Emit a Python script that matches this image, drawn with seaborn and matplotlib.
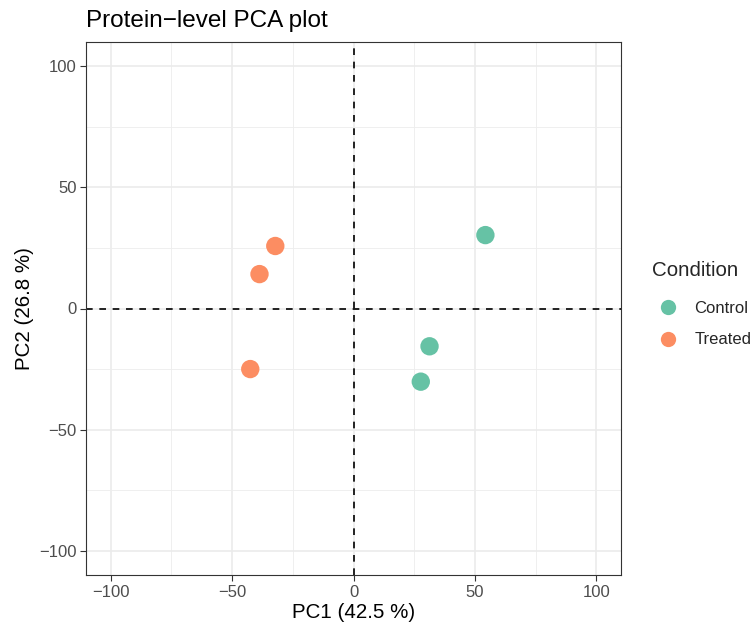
import matplotlib
matplotlib.use("Agg")
import matplotlib.pyplot as plt
import seaborn as sns
import pandas as pd
from matplotlib.ticker import MultipleLocator
from matplotlib.lines import Line2D

# Data
samples = ["C1", "C2", "C3", "T1", "T2", "T3"]
condition = ["Control", "Control", "Control", "Treated", "Treated", "Treated"]
pc1 = [54.3, 31.3, 27.7, -32.2, -38.7, -42.5]
pc2 = [30.3, -15.6, -30.2, 25.8, 14.2, -25.0]
levels = ["Control", "Treated"]
colors = ["#66C2A5", "#FC8D62"]
title = "Protein\u2212level PCA plot"
xlabel = "PC1 (42.5 %)"
ylabel = "PC2 (26.8 %)"
legend_title = "Condition"

df = pd.DataFrame({"sample": samples, "Condition": condition, "PC1": pc1, "PC2": pc2})

sns.set_style("white")
plt.rcParams["font.family"] = ["Liberation Sans", "DejaVu Sans"]

fig = plt.figure(figsize=(7.52, 6.25), dpi=100)
ax = fig.add_axes([86.3 / 752, 1 - 575 / 625, (620.7 - 86.3) / 752, (575 - 42) / 625])

ax.set_xlim(-110, 110)
ax.set_ylim(-110, 110)
ax.xaxis.set_major_locator(MultipleLocator(50))
ax.yaxis.set_major_locator(MultipleLocator(50))
ax.xaxis.set_minor_locator(MultipleLocator(25))
ax.yaxis.set_minor_locator(MultipleLocator(25))
ax.grid(True, which="major", color="#EBEBEB", linewidth=1.2)
ax.grid(True, which="minor", color="#EDEDED", linewidth=0.6)
ax.set_axisbelow(True)

ax.axhline(0, color="black", linestyle=(0, (4, 4)), linewidth=1.2, zorder=1.5)
ax.axvline(0, color="black", linestyle=(0, (4, 4)), linewidth=1.2, zorder=1.5)

sns.scatterplot(data=df, x="PC1", y="PC2", hue="Condition", hue_order=levels,
                palette=colors, s=175, linewidth=0, ax=ax, zorder=3, legend=False)

for sp in ax.spines.values():
    sp.set_color("#333333")
    sp.set_linewidth(0.8)

ax.tick_params(which="major", length=4, width=0.8, color="#333333",
               labelsize=12, labelcolor="#4D4D4D", pad=3, bottom=True, left=True)
ax.tick_params(which="minor", length=0)

ax.set_xlabel(xlabel, fontsize=14.8, color="black", labelpad=2)
ax.set_ylabel(ylabel, fontsize=14.8, color="black", labelpad=4)
ax.set_title(title, fontsize=17.5, loc="left", pad=10.5, color="black")

handles = [Line2D([0], [0], marker="o", linestyle="", markersize=11,
                  markerfacecolor=c, markeredgewidth=0) for c in colors]
fig.text(652 / 752, 1 - 271 / 625, legend_title, fontsize=14.8, ha="left", va="center")
leg = fig.legend(handles, levels, loc="center left",
                 bbox_to_anchor=(655 / 752 - 0.004, 1 - 324 / 625), frameon=False,
                 fontsize=12, handletextpad=0.65, borderpad=0.0,
                 labelspacing=1.0, handlelength=1.9, borderaxespad=0)

fig.savefig("out.png", dpi=100)
